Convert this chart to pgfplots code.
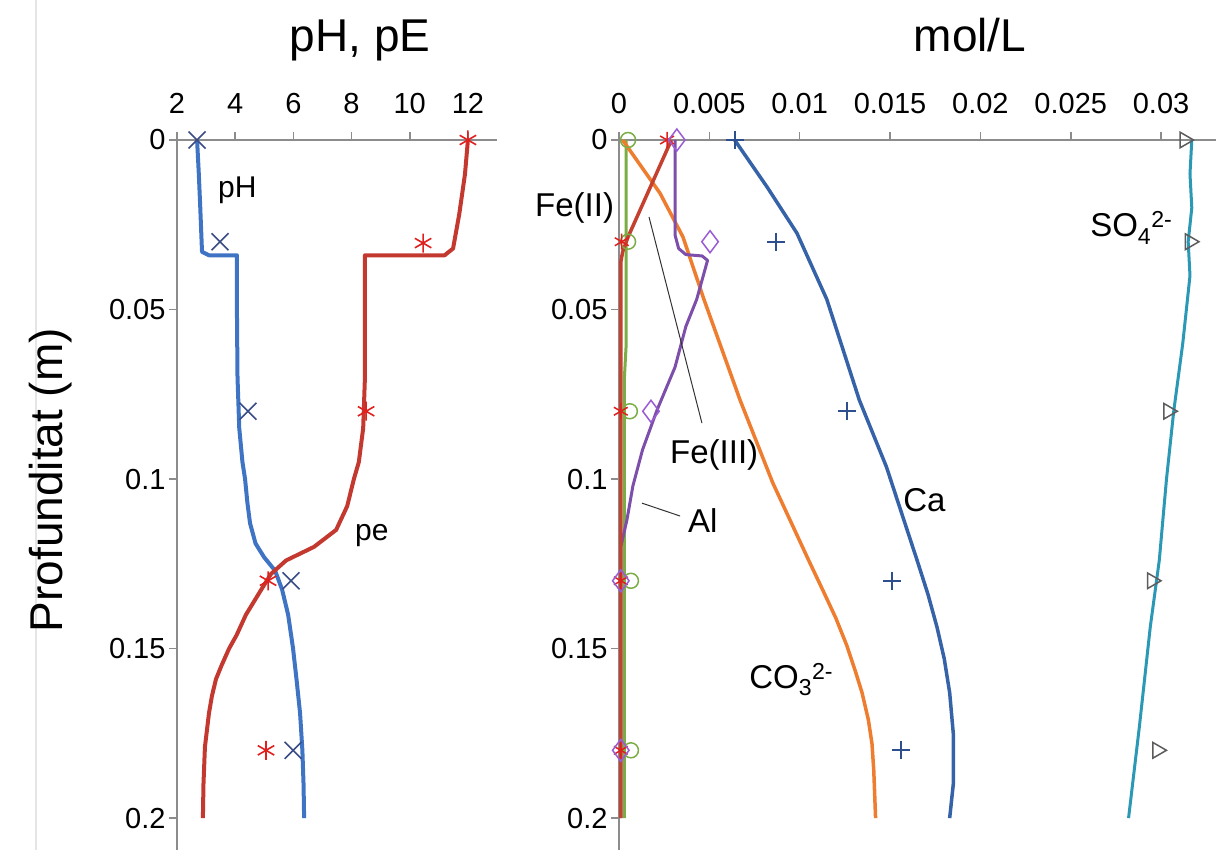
\documentclass[border=0pt]{standalone}
\usepackage{fontspec}
\setmainfont{Liberation Sans}
\usepackage{pgfplots}
\pgfplotsset{compat=1.18}

\definecolor{phblue}{HTML}{3F74C4}
\definecolor{pered}{HTML}{C4392F}
\definecolor{phmark}{HTML}{3A4C85}
\definecolor{pemark}{HTML}{E0201E}
\definecolor{cablue}{HTML}{3663A8}
\definecolor{camark}{HTML}{2E4F8E}
\definecolor{co3orange}{HTML}{EE7D30}
\definecolor{algreen}{HTML}{7AAE45}
\definecolor{fepurple}{HTML}{7E4FAA}
\definecolor{diapurple}{HTML}{9A5BD6}
\definecolor{fered}{HTML}{C4402F}
\definecolor{so4teal}{HTML}{2B98B6}
\definecolor{trigray}{HTML}{5C5C5C}
\definecolor{axgray}{HTML}{8C8C8C}

\newcommand{\ticksize}{\fontsize{29}{34}\selectfont}
\newcommand{\titlesize}{\fontsize{46}{52}\selectfont}
\newcommand{\lblsize}{\fontsize{30}{36}\selectfont}
\newcommand{\rlblsize}{\fontsize{33}{38}\selectfont}

\pgfplotsset{
  profile/.style={
    scale only axis,
    y dir=reverse,
    ymin=0, ymax=0.2094,
    height=710pt,
    axis x line*=top, axis y line*=left,
    axis line style={axgray, line width=2pt},
    tick style={axgray, line width=1.6pt},
    tick align=outside,
    major tick length=8pt,
    ytick={0,0.05,0.1,0.15,0.2},
    yticklabels={0,0.05,0.1,0.15,0.2},
    tick label style={font=\ticksize, black},
    xticklabel style={yshift=15pt},
    clip=false,
    title style={font=\titlesize, anchor=base},
  },
  model/.style={no marks, line width=#1, line join=round},
  model/.default=4pt,
}

\begin{document}
\begin{tikzpicture}[x=1pt,y=1pt]
\path[use as bounding box] (0,0) rectangle (1216,850);
\draw[black!10, line width=1.5pt] (36,0) -- (36,850);

% pH and pe
\begin{axis}[profile, at={(177pt,0pt)}, anchor=south west, width=320pt,
  xmin=2, xmax=13, xtick={2,4,6,8,10,12}, xticklabels={2,4,6,8,10,12},
  title={pH, pE}, title style={at={(axis description cs:0.572,1.1155)}},
  ylabel={Profunditat (m)},
  ylabel style={font=\titlesize, at={(axis description cs:-0.359,0.521)}, anchor=base},
]
\addplot[model, phblue] coordinates {
  (2.69,0) (2.75,0.01) (2.8,0.02) (2.86,0.033) (3.1,0.034) (4.06,0.034)
  (4.06,0.05) (4.08,0.07) (4.14,0.085) (4.25,0.095) (4.34,0.1) (4.42,0.107)
  (4.51,0.113) (4.7,0.119) (4.99,0.123) (5.37,0.127) (5.61,0.1325) (5.82,0.14)
  (5.99,0.15) (6.12,0.16) (6.23,0.169) (6.31,0.18) (6.35,0.19) (6.37,0.2)
};
\addplot[model, pered] coordinates {
  (12.0,0) (11.9,0.01) (11.7,0.022) (11.49,0.032) (11.2,0.034) (8.46,0.034)
  (8.46,0.05) (8.46,0.07) (8.4,0.085) (8.25,0.095) (8.08,0.1) (7.85,0.108)
  (7.47,0.115) (6.71,0.12) (5.75,0.124) (5.23,0.128) (4.89,0.1327) (4.37,0.14)
  (4.05,0.146) (3.79,0.15) (3.53,0.155) (3.34,0.159) (3.2,0.164) (3.1,0.169)
  (2.96,0.179) (2.91,0.19) (2.89,0.2)
};
\addplot[only marks, mark=x, mark size=12pt, mark options={phmark, line width=1.6pt}] coordinates {
  (2.69,0) (3.48,0.03) (4.44,0.08) (5.92,0.13) (5.99,0.18)
};
\addplot[only marks, mark=asterisk, mark size=9.5pt, mark options={pemark, line width=1.6pt}] coordinates {
  (12.0,0) (10.46,0.0304) (8.5,0.08) (5.13,0.13) (5.06,0.18)
};
\node[font=\lblsize, anchor=base west, inner sep=0pt] at (axis cs:3.41,0.0171) {pH};
\node[font=\lblsize, anchor=base west, inner sep=0pt] at (axis cs:8.12,0.118) {pe};
\end{axis}

% concentrations
\begin{axis}[profile, at={(619pt,0pt)}, anchor=south west, width=597pt,
  xmin=0, xmax=0.03304, scaled x ticks=false,
  xtick={0,0.005,0.01,0.015,0.02,0.025,0.03},
  xticklabels={0,0.005,0.01,0.015,0.02,0.025,0.03},
  title={mol/L}, title style={at={(axis description cs:0.588,1.1155)}},
]
\addplot[model=3pt, algreen] coordinates {
  (0.0004,0) (0.0004,0.03) (0.0004,0.06) (0.0003,0.07) (0.0003,0.2)
};
\addplot[model=3.5pt, co3orange] coordinates {
  (0.0002,0) (0.00227,0.0157) (0.00354,0.0286) (0.0047,0.047) (0.0067,0.0767)
  (0.0085,0.101) (0.0105,0.124) (0.0113,0.133) (0.0120,0.141) (0.0126,0.149)
  (0.0131,0.157) (0.01345,0.163) (0.0138,0.171) (0.0140,0.178) (0.0141,0.186)
  (0.0142,0.2)
};
\addplot[model=3pt, fepurple] coordinates {
  (0.0031,0) (0.0031,0.028) (0.0033,0.032) (0.0037,0.0338) (0.0046,0.0342)
  (0.0049,0.0355) (0.0043,0.047) (0.0037,0.055) (0.0031,0.067) (0.0021,0.0797)
  (0.0013,0.0914) (0.00077,0.102) (0.00044,0.112) (0.0001,0.12) (0.0001,0.2)
};
\addplot[model=3.5pt, fered] coordinates {
  (0.0029,0) (0.0005,0.0286) (0.0002,0.033) (0.0001,0.036) (0.0001,0.2)
};
\addplot[model=3.5pt, cablue] coordinates {
  (0.0064,0) (0.0082,0.0139) (0.00985,0.0275) (0.0115,0.047) (0.0133,0.0767)
  (0.0148,0.0964) (0.0165,0.124) (0.0171,0.134) (0.0176,0.1437) (0.018,0.153)
  (0.0183,0.163) (0.0185,0.175) (0.0185,0.19) (0.0183,0.2)
};
\addplot[model=3pt, so4teal] coordinates {
  (0.0317,0) (0.0316,0.01) (0.0317,0.02) (0.0315,0.03) (0.0316,0.04) (0.0312,0.06)
  (0.0307,0.08) (0.0303,0.1) (0.0299,0.124) (0.0294,0.1437) (0.0288,0.173) (0.0282,0.2)
};
\addplot[only marks, mark=o, mark size=7.5pt, mark options={algreen, line width=1.5pt}] coordinates {
  (0.0005,0) (0.0005,0.03) (0.0006,0.08) (0.00066,0.13) (0.00066,0.18)
};
\addplot[only marks, mark=asterisk, mark size=8pt, mark options={pemark, line width=1.5pt}] coordinates {
  (0.00266,0) (0.00015,0.03) (0.0001,0.08) (0.0001,0.13) (0.0001,0.18)
};
\addplot[only marks, mark=diamond, mark size=11pt, mark options={diapurple, line width=1.5pt}] coordinates {
  (0.0032,0) (0.00504,0.03) (0.00177,0.08) (0.0001,0.13) (0.0001,0.18)
};
\addplot[only marks, mark=+, mark size=9pt, mark options={camark, line width=1.8pt}] coordinates {
  (0.0064,0) (0.00869,0.03) (0.01262,0.08) (0.0151,0.13) (0.0156,0.18)
};
\addplot[only marks, mark=triangle, mark size=9pt, mark options={trigray, line width=1.5pt, rotate=-90}] coordinates {
  (0.0313,0) (0.0316,0.03) (0.0304,0.08) (0.0295,0.13) (0.0298,0.18)
};
\draw[black!80, line width=1pt] (axis cs:0.00166,0.0227) -- (axis cs:0.00459,0.0835);
\draw[black!80, line width=1pt] (axis cs:0.00127,0.1071) -- (axis cs:0.00338,0.1109);
\node[font=\rlblsize, anchor=base west, inner sep=0pt] at (axis cs:-0.00465,0.0227) {Fe(II)};
\node[font=\rlblsize, anchor=base west, inner sep=0pt] at (axis cs:0.00282,0.0953) {Fe(III)};
\node[font=\rlblsize, anchor=base west, inner sep=0pt] at (axis cs:0.00382,0.1159) {Al};
\node[font=\rlblsize, anchor=base west, inner sep=0pt] at (axis cs:0.01572,0.1097) {Ca};
\node[font=\rlblsize, anchor=base west, inner sep=0pt] at (axis cs:0.0072,0.1617) {CO\textsubscript{3}\textsuperscript{2-}};
\node[font=\rlblsize, anchor=base west, inner sep=0pt] at (axis cs:0.02607,0.0286) {SO\textsubscript{4}\textsuperscript{2-}};
\end{axis}
\end{tikzpicture}
\end{document}
